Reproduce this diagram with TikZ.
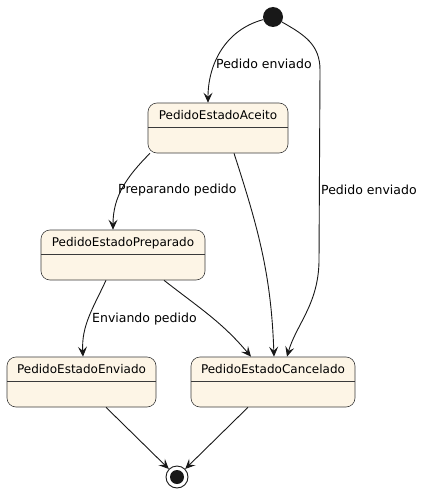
\documentclass[tikz,border=0pt]{standalone}
\usepackage{fontspec}
\setmainfont{DejaVu Sans}
\usetikzlibrary{arrows.meta}
\definecolor{statefill}{HTML}{FDF5E6}
\definecolor{stateline}{HTML}{3A3A3A}
\definecolor{arrowcol}{HTML}{181818}
\tikzset{
	estado/.style={draw=stateline, fill=statefill, line width=0.6pt, rounded corners=9pt,
		inner xsep=0pt, inner ysep=0pt, text height=16pt, text depth=34pt,
		font=\fontsize{12}{14}\selectfont,
		path picture={\draw[stateline, line width=0.6pt] ([yshift=-24pt]path picture bounding box.north west) -- ([yshift=-24pt]path picture bounding box.north east);}},
	inicio/.style={circle, fill=arrowcol, minimum size=20pt, inner sep=0pt},
	fim/.style={circle, draw=arrowcol, line width=0.9pt, minimum size=22pt, inner sep=0pt,
		path picture={\fill[arrowcol] (path picture bounding box.center) circle (7pt);}},
	trans/.style={draw=arrowcol, line width=0.9pt, -{Stealth[length=10pt,width=9pt,inset=4pt]}},
	rotulo/.style={font=\fontsize{12.5}{14}\selectfont, anchor=west, inner sep=0pt},
}
\begin{document}
\begin{tikzpicture}
	\useasboundingbox (0,0) rectangle (426pt,-495pt);
	% estados
	\node[inicio] (start) at (273pt,-17pt) {};
	\node[estado, minimum width=140pt] (aceito) at (218pt,-128pt) {PedidoEstadoAceito};
	\node[estado, minimum width=164pt] (preparado) at (123pt,-255pt) {PedidoEstadoPreparado};
	\node[estado, minimum width=149pt] (enviado) at (81.5pt,-382pt) {PedidoEstadoEnviado};
	\node[estado, minimum width=164pt] (cancelado) at (273pt,-382pt) {PedidoEstadoCancelado};
	\node[fim] (end) at (177pt,-477pt) {};
	\coordinate (desvio1) at (320pt,-70pt);
	\coordinate (desvio2) at (319pt,-262pt);
	% transicoes
	\draw[trans] (start) to[out=195,in=90] ([xshift=-10pt]aceito.north);
	\draw[trans] (start) .. controls (305pt,-35pt) and (320pt,-45pt) .. (desvio1) -- (desvio2)
		.. controls (318pt,-305pt) and (296pt,-325pt) .. ([xshift=14pt]cancelado.north);
	\draw[trans] ([xshift=-68pt]aceito.south) to[out=-135,in=90] ([xshift=-10pt]preparado.north);
	\draw[trans] ([xshift=16pt]aceito.south) to[out=-72,in=92] ([xshift=1pt]cancelado.north);
	\draw[trans] ([xshift=-17pt]preparado.south) to[out=-115,in=93] ([xshift=1.5pt]enviado.north);
	\draw[trans] ([xshift=41pt]preparado.south) to[out=-38,in=130] ([xshift=-22pt]cancelado.north);
	\draw[trans] ([xshift=24.5pt]enviado.south) -- (end);
	\draw[trans] ([xshift=-25pt]cancelado.south) -- (end);
	% rotulos
	\node[rotulo] (rotEnv1) at (216pt,-64pt) {Pedido enviado};
	\node[rotulo] (rotPrep) at (118pt,-190pt) {Preparando pedido};
	\node[rotulo] (rotEnv2) at (321pt,-190pt) {Pedido enviado};
	\node[rotulo] (rotEnvi) at (92pt,-319pt) {Enviando pedido};
\end{tikzpicture}
\end{document}
